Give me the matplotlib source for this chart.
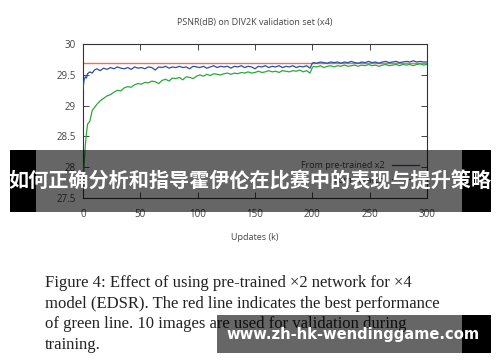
import matplotlib
matplotlib.use("Agg")
import matplotlib.pyplot as plt
from matplotlib.patches import Rectangle

# ---- data ----
updates = [0, 1, 2, 3, 4, 6, 8, 10,
           12, 15, 18, 21, 24, 27, 30, 33, 36, 39, 42, 45, 48, 51, 54, 57, 60,
           63, 66, 69, 72, 75, 78, 81, 84, 87, 90, 93, 96, 99, 102, 105, 108,
           111, 114, 117, 120, 123, 126, 129, 132, 135, 138, 141, 144, 147, 150,
           153, 156, 159, 162, 165, 168, 171, 174, 177, 180, 183, 186, 189, 192,
           195, 198,
           200, 201, 204, 207, 210, 213, 216, 219, 222, 225, 228, 231, 234, 237,
           240, 243, 246, 249, 252, 255, 258, 261, 264, 267, 270, 273, 276, 279,
           282, 285, 288, 291, 294, 297, 300]

psnr_pretrained = [29.28, 29.42, 29.47, 29.45, 29.52, 29.55, 29.53, 29.58,
                   29.60, 29.57, 29.61, 29.59, 29.62, 29.60, 29.63, 29.61, 29.60, 29.62,
                   29.59, 29.63, 29.61, 29.62, 29.60, 29.63, 29.62, 29.58, 29.63, 29.62,
                   29.64, 29.61, 29.63, 29.62, 29.64, 29.62, 29.63, 29.60, 29.64, 29.63,
                   29.62, 29.64, 29.61, 29.63, 29.65, 29.62, 29.64, 29.63, 29.64, 29.61,
                   29.64, 29.63, 29.65, 29.62, 29.64, 29.63, 29.60, 29.64, 29.63, 29.65,
                   29.62, 29.64, 29.63, 29.65, 29.62, 29.64, 29.63, 29.65, 29.62, 29.64,
                   29.63, 29.65, 29.61,
                   29.69, 29.70, 29.69, 29.71, 29.70, 29.69, 29.71, 29.70, 29.71, 29.69,
                   29.71, 29.70, 29.72, 29.70, 29.69, 29.71, 29.70, 29.72, 29.70, 29.71,
                   29.69, 29.71, 29.72, 29.70, 29.71, 29.72, 29.70, 29.71, 29.72, 29.71,
                   29.73, 29.71, 29.72, 29.71, 29.71]

psnr_scratch = [27.75, 28.05, 28.35, 28.55, 28.70, 28.75, 28.92, 28.97,
                29.02, 29.08, 29.12, 29.16, 29.18, 29.22, 29.25, 29.24, 29.29, 29.31,
                29.30, 29.34, 29.36, 29.35, 29.38, 29.37, 29.40, 29.39, 29.36, 29.41,
                29.43, 29.40, 29.45, 29.44, 29.46, 29.42, 29.47, 29.46, 29.44, 29.48,
                29.50, 29.48, 29.51, 29.49, 29.52, 29.51, 29.50, 29.52, 29.53, 29.51,
                29.53, 29.52, 29.54, 29.53, 29.55, 29.53, 29.54, 29.56, 29.54, 29.55,
                29.57, 29.55, 29.56, 29.54, 29.57, 29.56, 29.55, 29.57, 29.56, 29.58,
                29.55, 29.57, 29.53,
                29.62, 29.64, 29.63, 29.65, 29.62, 29.64, 29.65, 29.63, 29.65, 29.64,
                29.66, 29.64, 29.65, 29.66, 29.64, 29.66, 29.65, 29.67, 29.65, 29.66,
                29.64, 29.66, 29.67, 29.65, 29.66, 29.67, 29.65, 29.67, 29.66, 29.67,
                29.65, 29.67, 29.68, 29.66, 29.67]

best_scratch = 29.69

x_ticks = [0, 50, 100, 150, 200, 250, 300]
y_ticks = [27.5, 28, 28.5, 29, 29.5, 30]
y_tick_labels = ["27.5", "28", "28.5", "29", "29.5", "30"]

title = "PSNR(dB) on DIV2K validation set (x4)"
banner = "如何正确分析和指导霍伊伦在比赛中的表现与提升策略"
caption = ["Figure 4: Effect of using pre-trained \u00d72 network for \u00d74",
           "model (EDSR). The red line indicates the best performance",
           "of green line. 10 images are used for validation during",
           "training."]
watermark = "www.zh-hk-wendinggame.com"

# ---- figure ----
fig = plt.figure(figsize=(5.0, 3.62), dpi=100)
ax = fig.add_axes([0.166, 0.453, 0.688, 0.425])

ax.axhline(best_scratch, color="#e8706a", lw=1.0, zorder=2)
ax.plot(updates, psnr_scratch, color="#2aa83a", lw=0.9, label="From scratch", zorder=3)
ax.plot(updates, psnr_pretrained, color="#2a4f9e", lw=0.9, label="From pre-trained x2", zorder=4)

ax.set_xlim(0, 300)
ax.set_ylim(27.5, 30)
ax.set_xticks(x_ticks)
ax.set_yticks(y_ticks)
ax.set_yticklabels(y_tick_labels)
ax.tick_params(direction="in", top=True, right=True, length=4, width=0.7,
               labelsize=7, labelcolor="#444444", color="#444444")
ax.tick_params(axis="x", pad=8)
ax.tick_params(axis="y", pad=5)
for sp in ax.spines.values():
    sp.set_color("#333333")
    sp.set_linewidth(0.8)
ax.set_title(title, fontsize=6.5, color="#444444", pad=14, family="Open Sans")
ax.set_xlabel("Updates (k)", fontsize=6.5, color="#444444", labelpad=9, family="Open Sans")
for lab in ax.get_xticklabels() + ax.get_yticklabels():
    lab.set_family("Open Sans")

h, l = ax.get_legend_handles_labels()
leg = ax.legend(h[::-1], l[::-1], loc="lower right", bbox_to_anchor=(1.0, 0.035),
                frameon=False, handlelength=3.0, markerfirst=False,
                labelspacing=0.6, prop={"family": "Open Sans", "size": 6.5})
for t in leg.get_texts():
    t.set_color("#444444")

# caption text
for i, line in enumerate(caption):
    fig.text(45 / 500, 1 - (283 + i * 20.7) / 362, line, fontsize=12,
             family="Liberation Serif", color="#222222", va="center", ha="left")

# overlay banner
H = 362.0
def px_rect(x0, y0, x1, y1, color, alpha=1.0):
    fig.patches.append(Rectangle((x0 / 500, 1 - y1 / H), (x1 - x0) / 500, (y1 - y0) / H,
                                 transform=fig.transFigure, facecolor=color,
                                 alpha=alpha, edgecolor="none", zorder=10))

px_rect(36, 150, 462, 212, "black", 0.6)
px_rect(10, 150, 36, 212, "black")
px_rect(462, 150, 491, 212, "black")
fig.text(250 / 500, 1 - 181 / H, banner, fontsize=14.5, fontweight="bold",
         family=["Noto Sans CJK SC", "DejaVu Sans"], color="white",
         ha="center", va="center", zorder=11)

px_rect(217, 315, 462, 353, "black", 0.6)
px_rect(462, 315, 491, 353, "black")
fig.text(353 / 500, 1 - 335 / H, watermark, fontsize=10.6, fontweight="bold",
         family="DejaVu Sans", color="white", ha="center", va="center", zorder=11)

fig.savefig("out.png", dpi=100)
